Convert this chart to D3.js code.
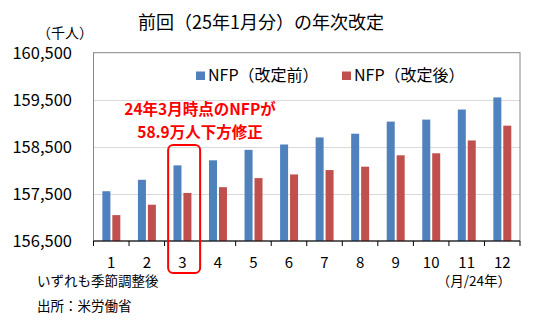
<!DOCTYPE html>
<html><head><meta charset="utf-8">
<script src="https://cdn.jsdelivr.net/npm/d3@7"></script>
<style>body{margin:0;background:#fff}svg{display:block}text{font-family:"Noto Sans CJK JP","Noto Sans",sans-serif}</style>
</head><body><svg id="c" width="537" height="325"></svg>
<script>
const months = ["1","2","3","4","5","6","7","8","9","10","11","12"];
const before = [157557,157800,158107,158214,158436,158550,158700,158779,159036,159079,159293,159550];
const after  = [157050,157271,157521,157643,157836,157914,158007,158079,158321,158364,158636,158950];
const yTicks = [156500,157500,158500,159500,160500];
const seriesNames = ["NFP（改定前）","NFP（改定後）"];
const colors = ["#4F81BD","#C0504D"];

const svg = d3.select("#c");
const L=93.5, R=520, T=52.7, B=241;
const x = d3.scaleBand().domain(months).range([L,R]).padding(0);
const y = d3.scaleLinear().domain([156500,160500]).range([B,T]);
const bw = x.bandwidth();

// gridlines
svg.append("g").selectAll("line").data(yTicks.slice(1,-1)).join("line")
  .attr("x1",L).attr("x2",R).attr("y1",d=>Math.round(y(d))+0.5).attr("y2",d=>Math.round(y(d))+0.5)
  .attr("stroke","#d9d9d9").attr("stroke-width",1);
// plot border
svg.append("rect").attr("x",L).attr("y",T).attr("width",R-L).attr("height",B-T)
  .attr("fill","none").attr("stroke","#868686").attr("stroke-width",1);

// bars
svg.append("g").selectAll("rect").data(months).join("rect")
  .attr("x",d=>x(d)+0.25*bw).attr("width",0.225*bw)
  .attr("y",(d,i)=>y(before[i])).attr("height",(d,i)=>B-y(before[i]))
  .attr("fill",colors[0]);
svg.append("g").selectAll("rect").data(months).join("rect")
  .attr("x",d=>x(d)+0.53*bw).attr("width",0.225*bw)
  .attr("y",(d,i)=>y(after[i])).attr("height",(d,i)=>B-y(after[i]))
  .attr("fill",colors[1]);

// x axis
const xa = svg.append("g").attr("transform",`translate(0,${B})`);
xa.append("line").attr("x1",L).attr("x2",R).attr("stroke","#000").attr("stroke-width",1.2);
xa.selectAll("line.t").data(d3.range(13)).join("line").attr("class","t")
  .attr("x1",i=>L+i*bw).attr("x2",i=>L+i*bw).attr("y1",0).attr("y2",5)
  .attr("stroke","#000").attr("stroke-width",1);
xa.selectAll("text").data(months).join("text")
  .attr("x",d=>x(d)+bw/2).attr("y",27).attr("text-anchor","middle")
  .attr("font-size",15).attr("fill","#000").text(d=>d);

// y labels
svg.append("g").selectAll("text").data(yTicks).join("text")
  .attr("x",72).attr("y",d=>y(d)+6).attr("text-anchor","end")
  .attr("font-size",16.5).attr("fill","#000").text(d=>d3.format(",")(d));

// title & units
svg.append("text").attr("x",261).attr("y",29).attr("text-anchor","middle")
  .attr("font-size",18).attr("fill","#000").text("前回（25年1月分）の年次改定");
svg.append("text").attr("x",65).attr("y",38).attr("text-anchor","middle")
  .attr("font-size",14).attr("fill","#000").text("（千人）");

// legend
const lg = svg.append("g");
[[196,0],[342,1]].forEach(([lx,i])=>{
  lg.append("rect").attr("x",lx).attr("y",71.5).attr("width",9).attr("height",8.5).attr("fill",colors[i]);
  lg.append("text").attr("x",lx+12).attr("y",81).attr("font-size",16).attr("fill","#000").text(seriesNames[i]);
});

// annotation
svg.append("text").attr("x",200).attr("y",115).attr("text-anchor","middle")
  .attr("font-size",15.5).attr("font-weight","bold").attr("fill","#FF0000").text("24年3月時点のNFPが");
svg.append("text").attr("x",200).attr("y",138).attr("text-anchor","middle")
  .attr("font-size",15.5).attr("font-weight","bold").attr("fill","#FF0000").text("58.9万人下方修正");
svg.append("rect").attr("x",x("3")+0.1*bw).attr("y",145).attr("width",0.9*bw).attr("height",128)
  .attr("rx",5).attr("fill","none").attr("stroke","#FF0000").attr("stroke-width",2);

// notes
svg.append("text").attr("x",37).attr("y",286).attr("font-size",13.5).attr("fill","#000").text("いずれも季節調整後");
svg.append("text").attr("x",37).attr("y",311).attr("font-size",13.5).attr("fill","#000").text("出所：米労働省");
svg.append("text").attr("x",511).attr("y",286).attr("text-anchor","end").attr("font-size",13.5).attr("fill","#000").text("（月/24年）");
</script></body></html>
